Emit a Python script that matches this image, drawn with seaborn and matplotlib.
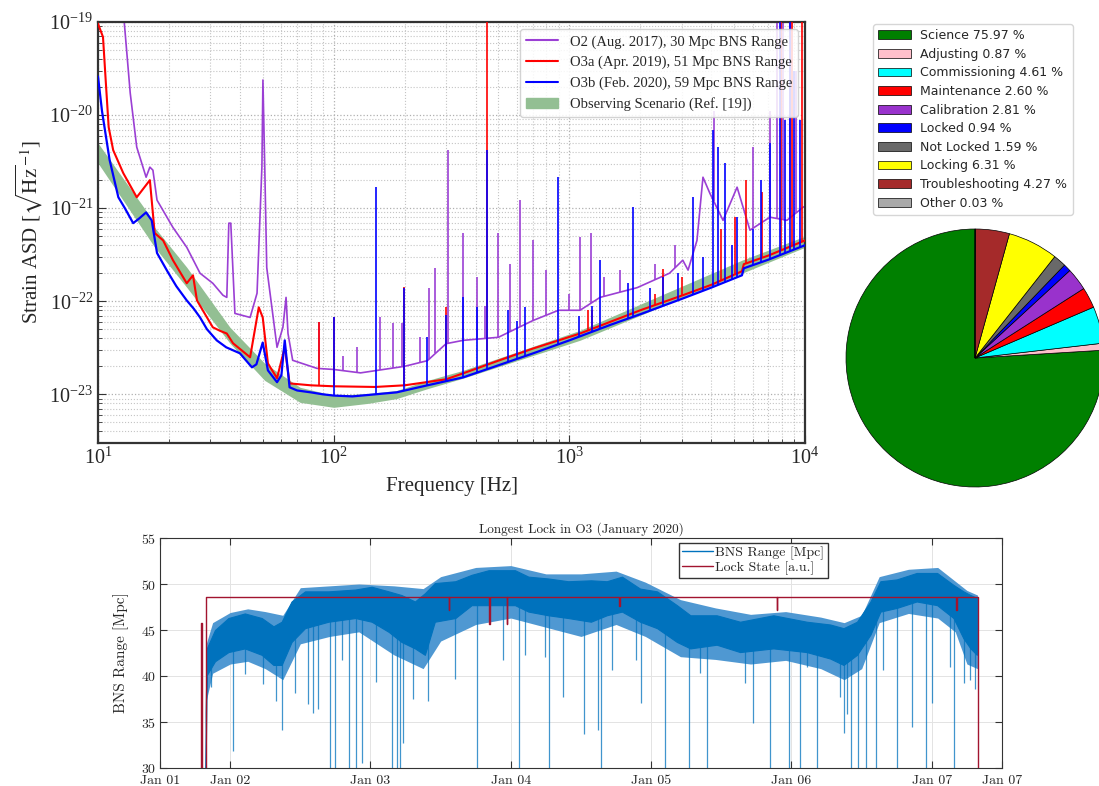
import numpy as np
import pandas as pd
import matplotlib
matplotlib.use("Agg")
import matplotlib.pyplot as plt
import matplotlib.dates as mdates
from matplotlib.lines import Line2D
from matplotlib.patches import Patch
import seaborn as sns

# ---------------- data: strain ASD (values in units of 1e-23 / sqrt(Hz)) ----------------
SCALE = 1e-23

o2_f = [12.5, 12.9, 13.7, 14.6, 16.0, 16.6, 17.1, 17.8, 20.8, 23.8, 27.1, 30.7, 33.9, 35.2, 35.9, 36.6,
        38.1, 44.2, 47.3, 49.6, 50.1, 51.0, 52.0, 57.5, 60.9, 62.8, 64.0, 67.0, 85, 100, 130, 200, 250,
        300, 354, 500, 700, 900, 1110, 1350, 1940, 2660, 3030, 3190, 3480, 3690, 3950, 4490, 5150,
        5840, 7100, 8380, 9800, 10000]
o2_asd = [30000, 10500, 1725, 453, 215, 276, 256, 122, 62, 38, 20, 15.6, 11.6, 11, 69, 69,
          7.4, 6.7, 12.2, 276, 2380, 276, 23, 3.2, 5.25, 11, 4.5, 2.32, 1.9, 1.85, 1.7, 2.0, 2.3,
          3.5, 3.8, 4.1, 6.2, 8.0, 8.0, 11, 14, 20, 27.6, 21.6, 45, 215, 144, 74, 168,
          58, 80, 74, 102, 105]

o3a_f = [10, 10.5, 10.8, 11.1, 11.6, 12.8, 14.6, 16.6, 17.4, 18.9, 20.8, 23.8, 25.3, 26.3, 30.7, 33.0,
         35.2, 37.4, 44.2, 48.1, 50.0, 52.6, 57.5, 62.0, 65.0, 80, 100, 150, 200, 300, 354, 500, 700,
         1110, 2000, 3000, 4000, 5400, 5500, 7000, 10000]
o3a_asd = [9600, 6900, 2200, 740, 420, 238, 131, 200, 54, 45, 27.6, 15.6, 19, 10.2, 5.25, 4.8,
           4.5, 3.54, 2.5, 8.6, 6.7, 2.15, 1.49, 3.2, 1.31, 1.25, 1.22, 1.2, 1.25, 1.45, 1.68, 2.3, 3.1,
           4.5, 8.0, 11.5, 15.0, 21.0, 25.0, 31, 45]

o3b_f = [10, 10.4, 11.2, 12.2, 13.0, 14.1, 15.0, 16.0, 16.9, 17.8, 19.8, 21.5, 23.8, 25.5, 27.1, 29.0,
         31.9, 35.0, 40.0, 45.0, 47.0, 50.0, 52.6, 57.5, 60.0, 62.0, 65.0, 70, 80, 90, 100, 120, 150,
         185, 250, 354, 500, 700, 1000, 1500, 2000, 3000, 4000, 5400, 5500, 7000, 9000, 10000]
o3b_asd = [2600, 1100, 330, 131, 100, 69, 78, 90, 74, 33, 20.5, 14.5, 10.2, 8.3, 6.7, 5.0,
           3.8, 3.2, 2.76, 1.95, 2.1, 3.6, 1.81, 1.35, 1.6, 3.8, 1.19, 1.1, 1.05, 1.0, 0.97, 0.95, 1.0,
           1.05, 1.25, 1.52, 2.05, 2.75, 3.8, 5.6, 7.25, 10.6, 14.0, 19.0, 22.6, 28, 36, 40]

# narrow spectral lines (frequency, peak height)
o2_line_f = [87, 110, 125, 157, 178, 195, 233, 254, 270, 306, 354, 405, 440, 497, 560, 617, 700, 800,
             1000, 1110, 1240, 1400, 1640, 2300, 2800, 4100, 6000, 7100, 7600, 8100, 8600, 9200]
o2_line_asd = [6.0, 2.6, 3.2, 6.7, 5.8, 5.8, 4.1, 14, 23, 420, 54, 18, 9, 54, 25, 122, 45, 21.6,
               12, 49, 54, 18, 21.6, 25, 40, 1100, 453, 1100, 20000, 20000, 20000, 3000]
o3a_line_f = [87, 100, 199, 299, 448, 1200, 1250, 2300, 2500, 3000, 4400, 5050, 5600, 6600, 7900,
              8800, 9700]
o3a_line_asd = [6.0, 6.7, 14.1, 8.6, 20000, 8, 8, 12, 22, 18, 60, 80, 200, 150, 20000, 20000, 20000]
o3b_line_f = [100, 151, 199, 249, 299, 354, 405, 447, 548, 600, 649, 895, 1100, 1250, 1350, 1770,
              1860, 2200, 2500, 2900, 3340, 3700, 4060, 4260, 4560, 4900, 5130, 6000, 6500, 7100,
              7800, 8200, 8600, 9000, 9500]
o3b_line_asd = [6.7, 168, 14, 4.1, 7.1, 11, 8.6, 420, 8.0, 6.2, 8.6, 215, 7, 9, 27.6, 15.6,
                102, 14, 18, 20, 131, 30, 690, 453, 305, 40, 80, 60, 200, 500,
                20000, 880, 20000, 3000, 880]

band_f = [10, 16.3, 17.4, 23.8, 36.3, 51, 72, 100, 140, 185, 250, 354, 1110, 5400, 10000]
band_hi = [500, 88, 62, 23.2, 5.25, 2.15, 1.19, 0.975, 1.02, 1.10, 1.41, 1.81, 4.87, 27.6, 50]
band_lo = [305, 48.7, 38, 14.1, 3.54, 1.41, 0.82, 0.725, 0.80, 0.90, 1.15, 1.49, 3.81, 20, 38]

# ---------------- data: duty cycle pie ----------------
pie_names = ["Science", "Adjusting", "Commissioning", "Maintenance", "Calibration", "Locked",
             "Not Locked", "Locking", "Troubleshooting", "Other"]
pie_vals = [75.97, 0.87, 4.61, 2.60, 2.81, 0.94, 1.59, 6.31, 4.27, 0.03]
pie_colors = ["green", "pink", "cyan", "red", "darkorchid", "blue", "dimgray", "yellow", "brown",
              "darkgray"]

# ---------------- data: longest lock (hours after 2020-01-01 00:00) ----------------
# dense core of the BNS range trace
core_h = [19.8, 20.0, 21.4, 23.7, 26.5, 29.4, 31.4, 32.8, 34.5, 36.8, 40.8, 45.4, 48.2, 51.1, 53.3,
          55.6, 57.3, 59.0, 62.5, 65.3, 68.2, 72.7, 75.0, 78.4, 81.8, 85.7, 88.4, 91.0, 94.1, 97.0,
          100.4, 102.7, 107.2, 111.2, 116.9, 122.6, 126.6, 128.9, 131.2, 133.5, 135.2, 138.0,
          141.4, 144.9, 147.7, 149.4, 150.6, 151.7]
core_hi = [36.0, 43.0, 45.0, 46.3, 46.8, 46.3, 45.4, 45.9, 48.1, 49.2, 49.2, 49.4, 49.7, 49.2, 48.8,
           48.1, 49.0, 50.1, 50.3, 51.0, 51.5, 51.5, 50.8, 50.6, 50.3, 50.4, 50.3, 50.8, 49.5, 49.2,
           47.7, 46.6, 46.6, 45.9, 46.6, 45.9, 45.6, 45.2, 45.9, 48.1, 50.3, 50.5,
           51.2, 51.2, 49.9, 49.2, 48.8, 48.5]
core_lo = [30.0, 40.1, 41.6, 42.6, 43.0, 42.3, 41.2, 41.2, 43.7, 45.2, 45.9, 46.3, 45.9, 44.8, 43.7,
           43.0, 42.3, 45.9, 46.3, 47.7, 47.7, 47.7, 47.0, 46.6, 46.3, 45.9, 46.6, 47.0, 45.9, 45.2,
           43.7, 43.0, 43.4, 42.6, 43.0, 42.6, 41.9, 41.2, 42.3, 44.5, 47.0, 47.4,
           48.1, 47.7, 46.3, 44.1, 43.0, 42.3]
# sparser outer spread of the trace
outer_h = [19.9, 21, 24, 27, 30, 33, 36, 41, 46, 52, 57, 60, 66, 72, 78, 84, 90, 95, 101, 107,
           113, 119, 125, 129, 132, 135, 140, 145, 148, 150, 151.8]
outer_hi = [43.5, 45.8, 46.9, 47.3, 47.0, 46.6, 49.6, 49.8, 50.0, 49.8, 49.5, 50.8, 51.8, 52.0, 51.1,
            51.1, 51.4, 50.2, 48.3, 47.4, 46.7, 47.0, 46.4, 45.8, 46.6, 50.8, 51.6, 51.8, 50.3, 49.3,
            48.8]
outer_lo = [37.3, 40.3, 41.3, 41.6, 40.8, 39.6, 43.5, 44.3, 44.8, 42.3, 40.8, 43.8, 45.6, 46.3, 45.3,
            44.3, 45.6, 44.3, 42.1, 41.8, 41.3, 41.7, 40.8, 39.6, 40.8, 45.8, 46.8, 46.3, 44.8, 41.3,
            40.8]

dip_h = [20.7, 24.5, 26.5, 29.7, 31.8, 32.9, 35.1, 37.3, 38.2, 39.1, 41.0, 42.0, 43.1, 44.4, 45.6,
         46.6, 49.0, 51.6, 52.6, 53.0, 53.5, 55.3, 57.9, 62.5, 66.2, 70.7, 73.4, 74.4, 77.9, 78.5,
         80.9, 84.5, 86.9, 87.4, 89.3, 93.4, 94.3, 98.4, 102.5, 104.4, 105.6, 112.1, 113.5, 116.4,
         119.5, 121.4, 122.6, 124.3, 128.3, 128.9, 129.5, 130.1, 131.3, 132.7, 134.4, 135.7, 138.0,
         140.6, 143.0, 144.0, 147.1, 147.8, 149.5, 150.6, 151.4]
dip_min = [38.8, 31.8, 40.2, 39.1, 37.3, 34.1, 38.2, 37.0, 36.0, 36.4, 29, 29, 41.7, 29, 29,
           30.5, 39.4, 29, 29, 29, 32.7, 37.5, 37.3, 39.7, 29, 41.7, 29, 42.3, 42.1, 29,
           37.7, 33.7, 34.1, 29, 40.7, 41.7, 37.1, 29, 29, 40.3, 29, 39.2, 34.9, 29,
           29, 29, 41.0, 29, 37.7, 33.8, 35.9, 29, 29, 29, 29, 40.7, 29,
           34.5, 29, 37.1, 41.0, 29, 39.2, 39.6, 38.6]

lock_h = [12.0, 19.0, 19.1, 19.8, 61.4, 61.5, 68.3, 68.4, 71.3, 71.4, 90.5, 90.6, 117.5, 117.6,
          148.2, 148.3, 151.9, 156.0]
lock_val = [0, 45.8, 0, 48.6, 47.2, 48.6, 45.7, 48.6, 45.7, 48.6, 47.6, 48.6, 47.2, 48.6,
            47.2, 48.6, 0, 0]

# ---------------- style ----------------
sns.set_style("ticks")
plt.rcParams["font.family"] = ["DejaVu Sans"]
plt.rcParams["mathtext.fontset"] = "stix"
plt.rcParams["axes.formatter.use_mathtext"] = True

fig = plt.figure(figsize=(10.99, 7.86), dpi=100)


def draw_lines(ax, f_floor, a_floor, f_line, a_line, color, z):
    # vertical spectral lines rising from the broadband floor
    base = 10 ** np.interp(np.log10(f_line), np.log10(f_floor), np.log10(a_floor))
    ax.vlines(f_line, base * SCALE, np.array(a_line) * SCALE, color=color, lw=1.2, zorder=z)


# ---------------- top left: ASD ----------------
ax1 = fig.add_axes([98 / 1099, 1 - 443 / 786, 707 / 1099, 421 / 786])
ax1.set_xscale("log")
ax1.set_yscale("log")
ax1.fill_between(band_f, np.array(band_lo) * SCALE, np.array(band_hi) * SCALE,
                 color="#93bf93", lw=0, zorder=1)
series = [(o2_f, o2_asd, o2_line_f, o2_line_asd, "#9b3fd4", 2, 1.2),
          (o3a_f, o3a_asd, o3a_line_f, o3a_line_asd, "red", 3, 1.5),
          (o3b_f, o3b_asd, o3b_line_f, o3b_line_asd, "blue", 4, 1.6)]
for f, a, lf, la, col, z, w in series:
    sns.lineplot(x=f, y=np.array(a) * SCALE, ax=ax1, color=col, lw=w, sort=False,
                 estimator=None, zorder=z)
    draw_lines(ax1, f, a, lf, la, col, z)

ax1.set_xlim(10, 1e4)
ax1.set_ylim(3e-24, 1e-19)
ax1.set_axisbelow(True)
ax1.grid(which="major", ls=":", color="#b0b0b0", lw=0.9)
ax1.grid(which="minor", ls=":", color="#c4c4c4", lw=0.8)
ax1.tick_params(which="both", direction="in", labelsize=14.5, color="#333333",
                labelfontfamily="Liberation Serif")
ax1.tick_params(which="major", length=6)
ax1.tick_params(which="minor", length=3)
for sp in ax1.spines.values():
    sp.set_linewidth(1.6)
    sp.set_color("#333333")
ax1.set_xlabel("Frequency [Hz]", fontsize=15, family="Liberation Serif", labelpad=6)
ax1.set_ylabel(r"Strain ASD [$\sqrt{\mathrm{Hz}}^{-1}$]", fontsize=15, family="Liberation Serif",
               labelpad=3)
handles = [Line2D([], [], color="#9b3fd4", lw=1.5), Line2D([], [], color="red", lw=1.5),
           Line2D([], [], color="blue", lw=1.5), Patch(color="#93bf93")]
labels = ["O2 (Aug. 2017), 30 Mpc BNS Range", "O3a (Apr. 2019), 51 Mpc BNS Range",
          "O3b (Feb. 2020), 59 Mpc BNS Range", "Observing Scenario (Ref. [19])"]
ax1.legend(handles, labels, loc="upper right", prop={"family": "Liberation Serif", "size": 10.5},
           framealpha=0.85, handlelength=2.2)

# ---------------- top right: pie ----------------
ax2 = fig.add_axes([846 / 1099, 1 - 487 / 786, 258 / 1099, 258 / 786])
wedges, _ = ax2.pie(pie_vals, colors=pie_colors, startangle=90, counterclock=True,
                    wedgeprops=dict(edgecolor="black", linewidth=0.5))
ax2.set_xlim(-1, 1)
ax2.set_ylim(-1, 1)
ax2.set_aspect("equal")
pie_labels = [f"{n} {v:.2f} %" for n, v in zip(pie_names, pie_vals)]
fig.legend(wedges, pie_labels, loc="upper left", bbox_to_anchor=(873 / 1099, 1 - 24 / 786),
           fontsize=9.0, handlelength=2.6, labelspacing=0.45, borderaxespad=0)

# ---------------- bottom: longest lock ----------------
ax3 = fig.add_axes([160 / 1099, 1 - 768 / 786, 842 / 1099, 230 / 786])
t0 = pd.Timestamp("2020-01-01")


def to_time(hours):
    return (t0 + pd.to_timedelta(hours, unit="h")).to_numpy()


bns_col = "#0072BD"
lock_col = "#A2142F"

ax3.fill_between(to_time(outer_h), outer_lo, outer_hi, color="#4f98d2", lw=0, zorder=2)
ax3.fill_between(to_time(core_h), core_lo, core_hi, color=bns_col, lw=0.8, zorder=2)
dip_top = np.interp(dip_h, core_h, core_lo) + 0.5
ax3.vlines(to_time(dip_h), dip_min, dip_top, color=bns_col, lw=0.9, alpha=0.75, zorder=2)
sns.lineplot(x=to_time(lock_h), y=lock_val, ax=ax3, color=lock_col, lw=1.0,
             drawstyle="steps-post", sort=False, estimator=None, zorder=3)

ax3.set_xlim(t0 + pd.Timedelta(hours=12), t0 + pd.Timedelta(hours=156))
ax3.set_ylim(30, 55)
xt = [t0 + pd.Timedelta(hours=12)] + [t0 + pd.Timedelta(days=d) for d in range(1, 7)] + \
     [t0 + pd.Timedelta(hours=156)]
ax3.set_xticks(xt)
ax3.xaxis.set_major_formatter(mdates.DateFormatter("%b %d"))
ax3.set_yticks([30, 35, 40, 45, 50, 55])
ax3.grid(True, color="#e3e3e3", lw=0.7)
ax3.set_axisbelow(True)
ax3.tick_params(direction="in", top=True, right=True, length=5, labelsize=10,
                labelfontfamily="cmr10", color="#333333")
ax3.tick_params(axis="y", pad=3)
ax3.tick_params(axis="x", pad=5)
for sp in ax3.spines.values():
    sp.set_linewidth(0.8)
    sp.set_color("#333333")
ax3.set_ylabel("BNS Range [Mpc]", fontsize=11, family="cmr10", labelpad=8)
ax3.set_xlabel("")
ax3.set_title("Longest Lock in O3 (January 2020)", fontsize=9.5, family="cmr10", pad=4)
ax3.legend([Line2D([], [], color=bns_col, lw=1), Line2D([], [], color=lock_col, lw=1)],
           ["BNS Range [Mpc]", "Lock State [a.u.]"], loc="upper left",
           bbox_to_anchor=(0.616, 0.98), prop={"family": "cmr10", "size": 10},
           fancybox=False, edgecolor="#333333", framealpha=1, handlelength=2.2,
           handletextpad=0.2, borderpad=0.25, labelspacing=0.1, borderaxespad=0)

fig.savefig("out.png", dpi=100)
